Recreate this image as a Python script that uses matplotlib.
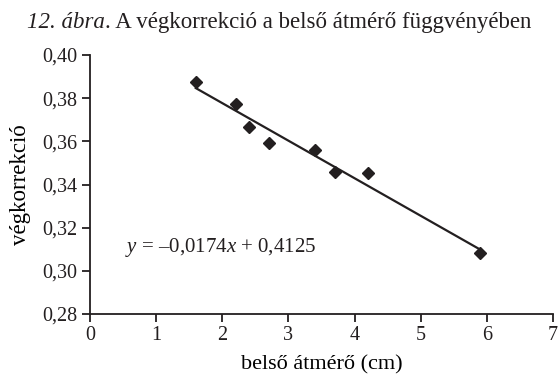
import numpy as np
import matplotlib
matplotlib.use("Agg")
import matplotlib.pyplot as plt
from matplotlib.transforms import offset_copy

# inner diameter (cm) and measured end correction
diameter = [1.6, 2.2, 2.4, 2.7, 3.4, 3.7, 4.2, 5.9]
end_corr = [0.3873, 0.3772, 0.3666, 0.3592, 0.3559, 0.3457, 0.3453, 0.3084]

# fitted line y = slope*x + intercept
slope = -0.0174
intercept = 0.4125

xticks = [0, 1, 2, 3, 4, 5, 6, 7]
yticks = [0.28, 0.30, 0.32, 0.34, 0.36, 0.38, 0.40]

ink = "#231f20"
plt.rcParams["font.family"] = ["Liberation Serif", "DejaVu Serif"]
plt.rcParams["mathtext.fontset"] = "custom"
plt.rcParams["mathtext.rm"] = "Liberation Serif"
plt.rcParams["mathtext.it"] = "Liberation Serif:italic"
plt.rcParams["text.color"] = ink
plt.rcParams["axes.edgecolor"] = ink
plt.rcParams["xtick.color"] = ink
plt.rcParams["ytick.color"] = ink

fig = plt.figure(figsize=(5.58, 3.75), dpi=100)
ax = fig.add_axes([90 / 558, 1 - 314 / 375, 463 / 558, 259 / 375])

fit_x = np.array([min(diameter), max(diameter)])
ax.plot(fit_x, slope * fit_x + intercept, color=ink, lw=1.6, zorder=2)
ax.plot(diameter, end_corr, "D", color=ink, ms=6, zorder=3)

ax.set_xlim(0, 7)
ax.set_ylim(0.28, 0.40)
ax.set_xticks(xticks)
ax.set_yticks(yticks)
ax.set_yticklabels([f"{v:.2f}".replace(".", ",") for v in yticks])
ax.tick_params(direction="out", length=6, width=1.3, labelsize=14.5, pad=3)
for side in ("top", "right"):
    ax.spines[side].set_visible(False)
for side in ("left", "bottom"):
    ax.spines[side].set_linewidth(1.3)

ax.set_xlabel("belső átmérő (cm)", fontsize=16, labelpad=7)
ax.set_ylabel("végkorrekció", fontsize=16.5, labelpad=8)

ax.text(0.53, 0.311, r"$\it{y}$ = –0,0174$\it{x}$ + 0,4125", fontsize=15,
        va="center", ha="left")

# title: italic figure number followed by the upright caption
renderer = fig.canvas.get_renderer()
t1 = fig.text(27 / 558, 0.94, "12. ábra", fontsize=16.5, style="italic",
              ha="left", va="center")
w = t1.get_window_extent(renderer).width
fig.text(27 / 558, 0.94, ". A végkorrekció a belső átmérő függvényében",
         fontsize=16.5, ha="left", va="center",
         transform=offset_copy(fig.transFigure, fig=fig, x=w, y=0, units="dots"))

fig.savefig("out.png", dpi=100)
